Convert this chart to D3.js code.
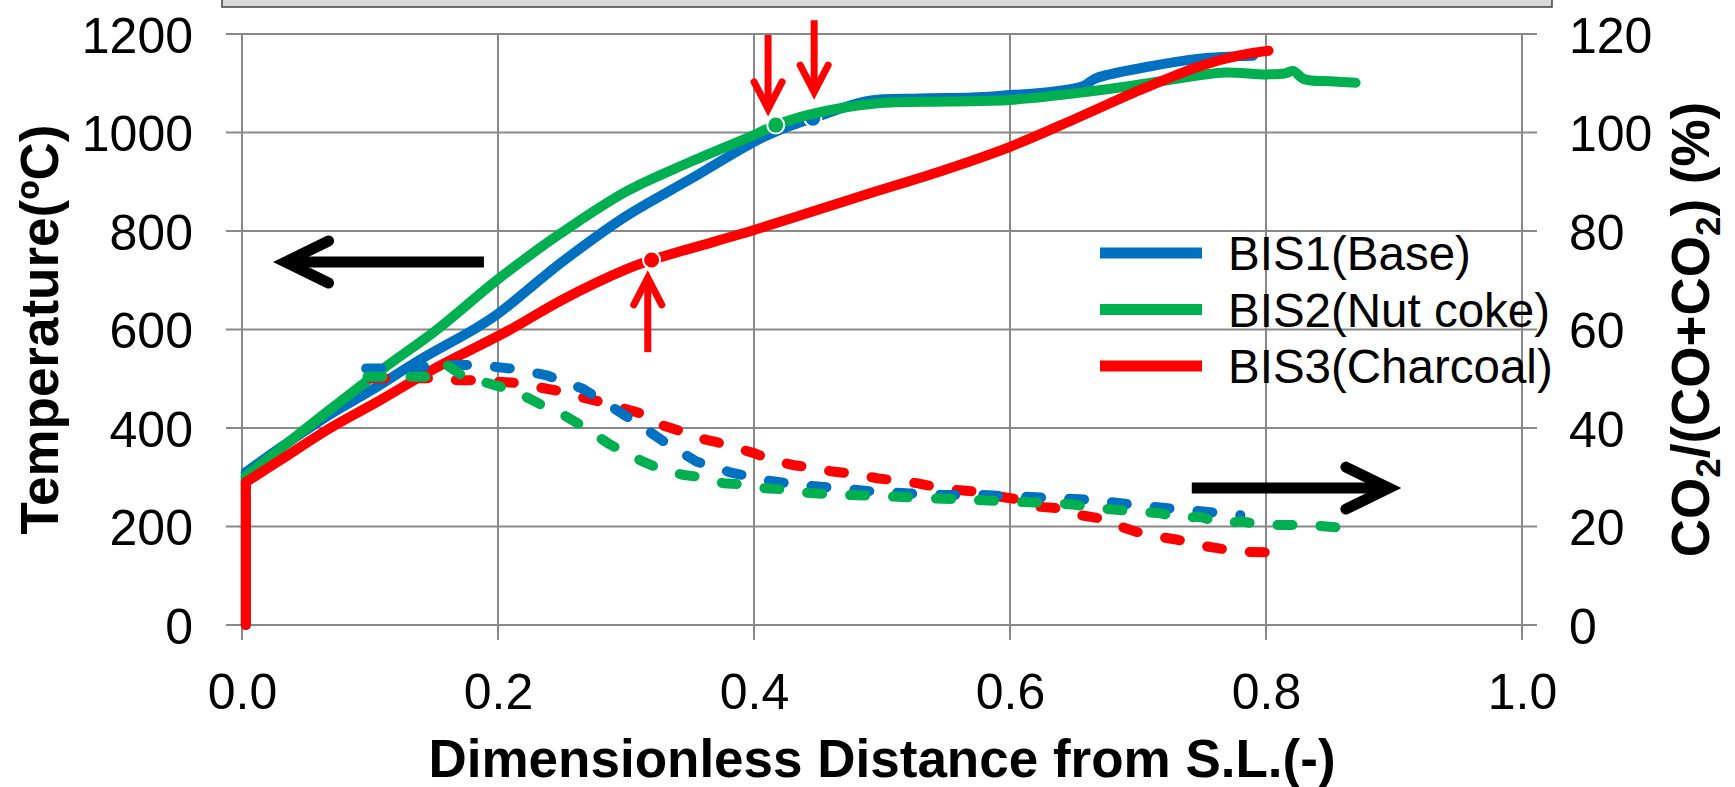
<!DOCTYPE html>
<meta charset="utf-8">

<!-- Load d3.js -->
<script src="https://d3js.org/d3.v7.min.js"></script>

<style>
  body { margin: 0; background: #fff; }
  text { font-family: "Liberation Sans", Arial, sans-serif; fill: #000; }
</style>

<div id="chart"></div>

<script>
const width = 1735;
const height = 787;

// ---- data ----
const xTicks = [0, 0.2, 0.4, 0.6, 0.8, 1.0];
const tempTicks = [0, 200, 400, 600, 800, 1000, 1200];
const ratioTicks = [0, 20, 40, 60, 80, 100, 120];

const seriesNames = ["BIS1(Base)", "BIS2(Nut coke)", "BIS3(Charcoal)"];
const seriesColors = ["#0070C0", "#00B050", "#FF0000"];

// temperature profiles [distance, degC]
const tempBase = [[0.003,0],[0.003,310],[0.03,360],[0.069,428],[0.1,475],[0.14,540],[0.181,600],
  [0.2,632],[0.25,737],[0.3,830],[0.35,905],[0.4,981],[0.417,1002],[0.446,1029],[0.489,1064],
  [0.53,1069],[0.57,1071],[0.6,1076],[0.63,1082],[0.657,1094],[0.667,1110],[0.709,1134],
  [0.748,1150],[0.79,1156]];
const tempNut = [[0.003,0],[0.003,302],[0.03,358],[0.069,438],[0.11,520],[0.152,599],[0.2,702],
  [0.25,797],[0.3,880],[0.35,940],[0.4,995],[0.417,1015],[0.444,1037],[0.495,1059],[0.55,1063],
  [0.6,1066],[0.652,1080],[0.698,1096],[0.748,1116],[0.768,1122],[0.8,1118],[0.815,1120],
  [0.821,1125],[0.83,1108],[0.85,1104],[0.87,1101]];
const tempChar = [[0.003,0],[0.003,290],[0.03,335],[0.069,400],[0.107,455],[0.15,520],[0.209,599],
  [0.25,660],[0.3,722],[0.32,741],[0.37,779],[0.4,802],[0.45,843],[0.49,876],[0.55,925],
  [0.6,971],[0.652,1029],[0.705,1090],[0.75,1136],[0.78,1157],[0.802,1166]];

// gas utilisation profiles [distance, %]
const ratioBase = [[0.097,52.1],[0.126,52.1],[0.155,52.8],[0.183,52.8],[0.213,52],[0.238,50.7],
  [0.266,48],[0.287,44.6],[0.311,40.6],[0.331,37],[0.355,33.2],[0.38,31.1],[0.409,29.4],
  [0.436,28.4],[0.464,27.8],[0.493,27.1],[0.522,26.7],[0.549,26.4],[0.579,26.4],[0.606,26.1],
  [0.639,25.7],[0.666,25.4],[0.696,24.4],[0.723,23.7],[0.753,23],[0.78,22.3]];
const ratioNut = [[0.098,50.4],[0.132,50.4],[0.152,50.4],[0.16,52.8],[0.175,50.1],[0.188,49.4],
  [0.207,48],[0.219,46.7],[0.234,44.7],[0.247,43.3],[0.262,41],[0.272,39.3],[0.286,36.9],
  [0.298,35.2],[0.313,33.2],[0.325,31.9],[0.344,30.5],[0.356,30.1],[0.376,28.8],[0.388,28.6],
  [0.407,27.8],[0.42,27.6],[0.44,26.9],[0.455,26.6],[0.473,26.4],[0.506,26.1],[0.539,25.7],
  [0.572,25.4],[0.605,25],[0.638,24.7],[0.651,24.4],[0.67,23.7],[0.702,23],[0.717,22.7],
  [0.735,21.7],[0.748,22],[0.767,20.6],[0.781,21],[0.8,20.3],[0.834,20.3],[0.866,19.6]];
const ratioChar = [[0.1,50.1],[0.152,50.1],[0.168,49.7],[0.186,49.7],[0.2,49.4],[0.217,49.1],
  [0.231,48.3],[0.25,47.4],[0.263,46.4],[0.28,45.3],[0.294,44.3],[0.311,43],[0.323,41],
  [0.34,39.6],[0.352,38.2],[0.37,37.2],[0.383,36.2],[0.4,34.9],[0.414,33.5],[0.43,32.5],
  [0.444,32],[0.463,31.1],[0.476,30.8],[0.496,29.8],[0.509,29.4],[0.527,28.8],[0.541,28.1],
  [0.559,27.4],[0.573,27.1],[0.591,26.1],[0.609,25.4],[0.623,24],[0.638,23.7],[0.655,22.3],
  [0.669,21.7],[0.686,20],[0.699,18.9],[0.717,17.9],[0.731,17.3],[0.748,16.2],[0.762,15.6],
  [0.78,14.9],[0.805,14.7]];

// highlighted points on the temperature curves
const markerPoints = [[0.446,1029],[0.417,1015],[0.32,741]];

// ---- svg ----
const svg = d3.select("#chart")
  .append("svg")
    .attr("width", width)
    .attr("height", height);

const x = d3.scaleLinear().domain([0, 1]).range([242, 1522]);
const yT = d3.scaleLinear().domain([0, 1200]).range([625, 34]);
const yR = d3.scaleLinear().domain([0, 120]).range([625, 34]);

// grey box cut off at the top
svg.append("rect")
  .attr("x", 222).attr("y", -6)
  .attr("width", 1330).attr("height", 13)
  .attr("fill", "#d9d9d9")
  .attr("stroke", "#404040")
  .attr("stroke-width", 1.5);

// gridlines (they also act as the axis lines and ticks)
const grid = svg.append("g").attr("stroke", "#898989").attr("stroke-width", 2);
grid.selectAll(".h").data(tempTicks).join("line")
  .attr("x1", x(0) - 16).attr("x2", x(1) + 15)
  .attr("y1", d => yT(d)).attr("y2", d => yT(d));
grid.selectAll(".v").data(xTicks).join("line")
  .attr("x1", d => x(d)).attr("x2", d => x(d))
  .attr("y1", yT(1200)).attr("y2", yT(0) + 15);

// tick labels
const axisLeft = svg.append("g")
  .attr("transform", `translate(${x(0)},0)`)
  .call(d3.axisLeft(yT).tickValues(tempTicks).tickFormat(d3.format("d")).tickSize(0).tickPadding(49));
const axisRight = svg.append("g")
  .attr("transform", `translate(${x(1)},0)`)
  .call(d3.axisRight(yR).tickValues(ratioTicks).tickFormat(d3.format("d")).tickSize(0).tickPadding(47));
const axisBottom = svg.append("g")
  .attr("transform", `translate(0,${yT(0)})`)
  .call(d3.axisBottom(x).tickValues(xTicks).tickFormat(d3.format(".1f")).tickSize(0).tickPadding(48));

[axisLeft, axisRight, axisBottom].forEach(a => {
  a.select(".domain").remove();
  a.selectAll("text")
    .style("font-family", '"Liberation Sans", Arial, sans-serif')
    .style("font-size", "50px");
});
axisLeft.selectAll("text").attr("dy", "0.36em");
axisRight.selectAll("text").attr("dy", "0.36em");

// axis titles
svg.append("text")
  .attr("transform", `translate(58,${(yT(0) + yT(1200)) / 2}) rotate(-90)`)
  .attr("text-anchor", "middle")
  .style("font-size", "53px").style("font-weight", "bold")
  .text("Temperature(ºC)");

svg.append("text")
  .attr("x", (x(0) + x(1)) / 2).attr("y", 777)
  .attr("text-anchor", "middle")
  .style("font-size", "53px").style("font-weight", "bold")
  .text("Dimensionless Distance from S.L.(-)");

const rTitle = svg.append("text")
  .attr("transform", `translate(1709,${(yR(0) + yR(120)) / 2}) rotate(-90)`)
  .attr("text-anchor", "middle")
  .style("font-size", "53px").style("font-weight", "bold");
rTitle.append("tspan").text("CO");
rTitle.append("tspan").attr("dy", 11).style("font-size", "35px").text("2");
rTitle.append("tspan").attr("dy", -11).text("/(CO+CO");
rTitle.append("tspan").attr("dy", 11).style("font-size", "35px").text("2");
rTitle.append("tspan").attr("dy", -11).text(") (%)");

// ---- series ----
const lineStraight = d3.line().x(d => x(d[0])).y(d => yT(d[1]));
const lineT = d3.line().curve(d3.curveCatmullRom.alpha(0.5)).x(d => x(d[0])).y(d => yT(d[1]));
const lineR = d3.line().x(d => x(d[0])).y(d => yR(d[1]));

const tempSeries = [tempBase, tempNut, tempChar];
const ratioSeries = [ratioBase, ratioNut, ratioChar];

tempSeries.forEach((s, i) => {
  const g = svg.append("g")
    .attr("fill", "none")
    .attr("stroke", seriesColors[i])
    .attr("stroke-width", 10)
    .attr("stroke-linejoin", "round")
    .attr("stroke-linecap", "round");
  // the jump at the start is a straight vertical step, the rest a smooth profile
  g.append("path").attr("d", lineStraight(s.slice(0, 2)));
  g.append("path").attr("d", lineT(s.slice(1)));
  svg.append("circle")
    .attr("cx", x(markerPoints[i][0]))
    .attr("cy", yT(markerPoints[i][1]))
    .attr("r", 8.5)
    .attr("fill", seriesColors[i])
    .attr("stroke", "#fff")
    .attr("stroke-width", 2);
});

// dashed lines: charcoal first, nut coke on top
[2, 0, 1].forEach(i => {
  svg.append("path")
    .datum(ratioSeries[i])
    .attr("d", lineR)
    .attr("fill", "none")
    .attr("stroke", seriesColors[i])
    .attr("stroke-width", 10)
    .attr("stroke-linejoin", "round")
    .attr("stroke-linecap", "round")
    .attr("stroke-dasharray", "15,28");
});

// ---- legend ----
const legend = svg.append("g");
seriesNames.forEach((name, i) => {
  const ly = 253 + i * 56.5;
  legend.append("line")
    .attr("x1", 1100).attr("x2", 1202)
    .attr("y1", ly).attr("y2", ly)
    .attr("stroke", seriesColors[i])
    .attr("stroke-width", 11);
  legend.append("text")
    .attr("x", 1228).attr("y", ly + 17)
    .style("font-size", "47.5px")
    .text(name);
});

// ---- annotation arrows ----
// black: which axis a curve belongs to (pixel y taken from its own axis)
const blackArrows = [
  { from: 0.189, to: 0.034, y: yT(737) },
  { from: 0.742, to: 0.896, y: yR(27.8) }
];
blackArrows.forEach(a => {
  const x1 = x(a.from), x2 = x(a.to), y = a.y;
  const dir = Math.sign(x2 - x1);
  svg.append("line")
    .attr("x1", x1).attr("x2", x2 - dir * 3)
    .attr("y1", y).attr("y2", y)
    .attr("stroke", "#000").attr("stroke-width", 11);
  svg.append("path")
    .attr("d", `M${x2 - dir * 43},${y - 21}L${x2},${y}L${x2 - dir * 43},${y + 21}`)
    .attr("fill", "none").attr("stroke", "#000").attr("stroke-width", 11)
    .attr("stroke-linecap", "round").attr("stroke-linejoin", "miter");
});

// red: marked points
const redArrows = [
  { x: 0.411, tail: 1198, tip: 1048 },
  { x: 0.447, tail: 1228, tip: 1082 },
  { x: 0.317, tail: 554, tip: 705 }
];
redArrows.forEach(a => {
  const ax = x(a.x), y1 = yT(a.tail), y2 = yT(a.tip);
  const dir = Math.sign(y2 - y1);
  svg.append("line")
    .attr("x1", ax).attr("x2", ax)
    .attr("y1", y1).attr("y2", y2 - dir * 3)
    .attr("stroke", "#FF0000").attr("stroke-width", 7);
  svg.append("path")
    .attr("d", `M${ax - 14},${y2 - dir * 27}L${ax},${y2}L${ax + 14},${y2 - dir * 27}`)
    .attr("fill", "none").attr("stroke", "#FF0000").attr("stroke-width", 7)
    .attr("stroke-linecap", "round").attr("stroke-linejoin", "miter");
});
</script>
